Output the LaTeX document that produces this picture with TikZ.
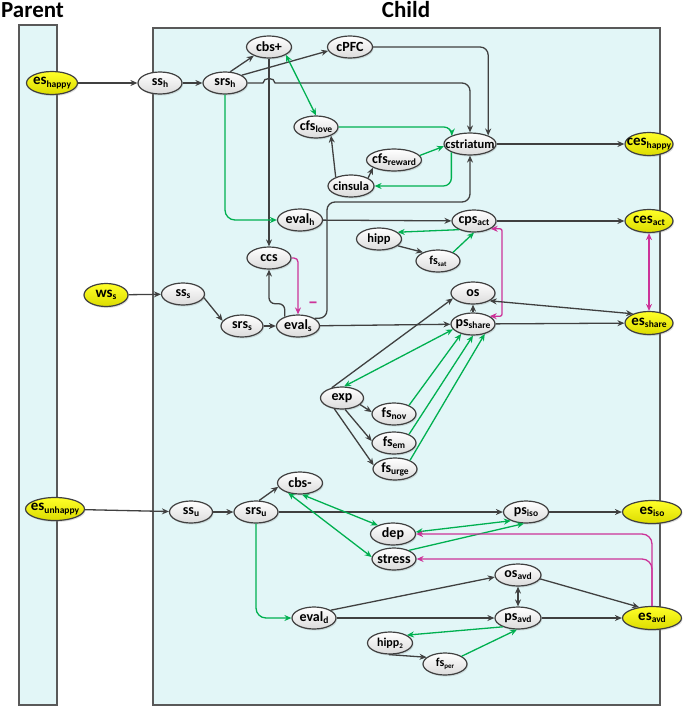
\documentclass[tikz,border=0pt]{standalone}
\usepackage{fontspec}
\setmainfont{Carlito}
\usetikzlibrary{arrows.meta,shapes.geometric,shadows}
\definecolor{edgec}{RGB}{64,64,64}
\definecolor{grn}{RGB}{0,176,80}
\definecolor{mag}{RGB}{204,51,153}
\definecolor{bgc}{RGB}{226,246,247}
\definecolor{framec}{RGB}{89,89,89}
\definecolor{yeltop}{RGB}{255,255,40}
\definecolor{yelbot}{RGB}{220,220,0}
\newcommand{\subt}[1]{\raisebox{-0.3ex}{\fontsize{9.5}{9.5}\selectfont #1}}
\newcommand{\subs}[1]{\raisebox{-0.3ex}{\fontsize{7}{7}\selectfont #1}}
\newcommand{\mb}[1]{\makebox[0pt]{#1}}
\begin{document}
\begin{tikzpicture}[x=1pt,y=-1pt,>={Stealth[length=7pt,width=6pt]},
  ell/.style={ellipse, draw=edgec, line width=1.2pt, top color=white, bottom color=gray!28,
    inner sep=0pt, minimum height=22pt, minimum width=44pt,
    font=\bfseries\fontsize{14}{14}\selectfont,
    drop shadow={shadow xshift=1pt, shadow yshift=-1.5pt, opacity=0.25}},
  yel/.style={ell, top color=yeltop, bottom color=yelbot, minimum height=23pt,
    font=\bfseries\fontsize{15}{15}\selectfont},
  small/.style={font=\bfseries\fontsize{12.5}{12.5}\selectfont},
  tiny/.style={font=\bfseries\fontsize{12}{12}\selectfont},
  ar/.style={draw=edgec, line width=1.3pt, ->},
  gr/.style={draw=grn, line width=1.3pt, ->},
  mg/.style={draw=mag, line width=1.3pt, ->},
  ttl/.style={font=\bfseries\fontsize{23}{23}\selectfont, inner sep=0pt}]
\useasboundingbox (0,0) rectangle (685,709);
% panels
\draw[framec, fill=bgc, line width=1.5pt] (19,25) rectangle (57,705);
\draw[framec, fill=bgc, line width=1.5pt] (153,28) rectangle (660,705);
\node[ttl, anchor=base west] (tparent) at (1,18) {Parent};
\node[ttl, anchor=base] (tchild) at (406,18) {Child};
% nodes
\node[yel, minimum width=51pt] (es_happy) at (52,83) {\mb{es\subt{happy}}};
\node[ell] (ss_h) at (160,83) {\mb{ss\subt{h}}};
\node[ell] (srs_h) at (225,83) {\mb{srs\subt{h}}};
\node[ell, minimum width=45pt] (cbsp) at (269,47) {\mb{cbs+}};
\node[ell, minimum width=45pt] (cPFC) at (350,47) {\mb{cPFC}};
\node[ell] (cfs_love) at (316,127) {\mb{cfs\subt{love}}};
\node[ell, small, minimum width=52pt] (cstriatum) at (470,144) {\mb{cstriatum}};
\node[ell, minimum width=55pt] (cfs_reward) at (394,160) {\mb{cfs\subt{reward}}};
\node[ell, small, minimum width=46pt] (cinsula) at (351,186) {\mb{cinsula}};
\node[yel, minimum width=48pt] (ces_happy) at (649,144) {\mb{ces\subt{happy}}};
\node[ell, minimum width=45pt] (eval_h) at (300,220) {\mb{eval\subt{h}}};
\node[ell] (ccs) at (269,258) {\mb{ccs}};
\node[yel, minimum width=44pt] (ws_s) at (106,295) {\mb{ws\subt{s}}};
\node[ell, minimum width=43pt] (ss_s) at (183,294) {\mb{ss\subt{s}}};
\node[ell, minimum width=42pt] (srs_s) at (242,326) {\mb{srs\subt{s}}};
\node[ell, minimum width=43pt] (eval_s) at (298,326) {\mb{eval\subt{s}}};
\node[ell] (cps_act) at (474,221) {\mb{cps\subt{act}}};
\node[yel, minimum width=48pt] (ces_act) at (649,221) {\mb{ces\subt{act}}};
\node[ell, small, minimum width=45pt] (hipp) at (379,239) {\mb{hipp}};
\node[ell, tiny] (fs_sat) at (438,261) {\mb{fs\subs{sat}}};
\node[ell] (os) at (473,293) {\mb{os}};
\node[ell] (ps_share) at (473,324) {\mb{ps\subt{share}}};
\node[yel, minimum width=48pt] (es_share) at (649,323) {\mb{es\subt{share}}};
\node[ell, minimum width=43pt] (exp) at (342,398) {\mb{exp}};
\node[ell] (fs_nov) at (394,414) {\mb{fs\subt{nov}}};
\node[ell] (fs_em) at (394,443) {\mb{fs\subt{em}}};
\node[ell] (fs_urge) at (395,469) {\mb{fs\subt{urge}}};
\node[ell, minimum width=45pt] (cbsm) at (300,483) {\mb{cbs-}};
\node[yel, minimum width=59pt] (es_unhappy) at (55,509) {\mb{es\subt{unhappy}}};
\node[ell, minimum width=43pt] (ss_u) at (191,512) {\mb{ss\subt{u}}};
\node[ell] (srs_u) at (256,512) {\mb{srs\subt{u}}};
\node[ell] (eval_d) at (314,618) {\mb{eval\subt{d}}};
\node[ell, minimum width=45pt] (ps_iso) at (526,512) {\mb{ps\subt{iso}}};
\node[yel, minimum width=59pt] (es_iso) at (652,512) {\mb{es\subt{iso}}};
\node[ell, minimum width=45pt] (dep) at (393,534) {\mb{dep}};
\node[ell] (stress) at (394,559) {\mb{stress}};
\node[ell, minimum width=46pt] (os_avd) at (518,575) {\mb{os\subt{avd}}};
\node[ell, minimum width=46pt] (ps_avd) at (518,618) {\mb{ps\subt{avd}}};
\node[yel, minimum width=59pt] (es_avd) at (652,618) {\mb{es\subt{avd}}};
\node[ell, tiny, minimum width=45pt] (hipp2) at (390,643) {\mb{hipp\subs{2}}};
\node[ell, tiny] (fs_per) at (445,664) {\mb{fs\subs{per}}};
\node[text=mag, font=\bfseries\fontsize{20}{20}\selectfont, inner sep=0pt] (minus) at (313,305) {–};
% happy branch
\draw[ar] (es_happy) -- (ss_h);
\draw[ar] (ss_h) -- (srs_h);
\draw[ar] (srs_h.65) -- (cbsp.210);
\draw[ar] (srs_h.25) -- (cPFC.190);
\draw[ar] (srs_h.east) -- (263,83) .. controls (263,77) and (275,77) .. (275,83) [rounded corners=8pt] -| (cstriatum.north);
\draw[ar, rounded corners=8pt] (cPFC.east) -| (cstriatum.25);
\draw[ar] (cbsp) -- (ccs);
\draw[gr, <->] (cbsp.-25) -- (cfs_love.north);
\draw[gr, rounded corners=8pt] (cfs_love.east) -| (cstriatum.155);
\draw[ar] (cinsula.150) -- (cfs_love.-30);
\draw[ar] (cinsula.25) -- (cfs_reward.200);
\draw[gr] (cfs_reward.10) -- (cstriatum.185);
\draw[gr, rounded corners=8pt] (cstriatum.204) |- (cinsula.east);
\draw[ar] (cstriatum) -- (ces_happy);
\draw[gr, rounded corners=10pt] (srs_h.south) |- (eval_h.west);
\draw[ar] (eval_h) -- (cps_act);
\draw[ar] (cps_act) -- (ces_act);
\draw[gr] (cps_act.210) -- (hipp.20);
\draw[ar] (hipp.-20) -- (fs_sat.150);
\draw[gr] (fs_sat.30) -- (cps_act.south);
\draw[mg, <->] (ces_act) -- (es_share);
\draw[mg, <->, rounded corners=2pt] (cps_act.-25) -| (502,270) |- (ps_share.25);
% share branch
\draw[ar] (ws_s) -- (ss_s);
\draw[ar] (ss_s.-10) -- (srs_s.165);
\draw[ar] (srs_s) -- (eval_s);
\draw[mg, rounded corners=4pt] (ccs.east) -| (eval_s.north);
\draw[ar, rounded corners=6pt] (eval_s.145) -- ++(0,-13) -| (ccs.south);
\draw[ar, rounded corners=8pt] (eval_s.25) -| (327,202) -| (cstriatum.south);
\draw[ar] (eval_s) -- (ps_share);
\draw[ar] (ps_share) -- (os);
\draw[ar, <->] (es_share.150) -- (os.-25);
\draw[ar] (ps_share) -- (es_share);
\draw[ar] (exp.135) -- (os.195);
\draw[gr, <->] (exp.80) -- (ps_share.195);
\draw[gr] (fs_nov.30) -- (ps_share.220);
\draw[gr] (fs_em.30) -- (ps_share.-90);
\draw[gr] (fs_urge.30) -- (ps_share.-40);
\draw[ar] (exp.-20) -- (fs_nov.175);
\draw[ar] (exp.-75) -- (fs_em.175);
\draw[ar] (exp.-125) -- (fs_urge.170);
% unhappy branch
\draw[ar] (es_unhappy) -- (ss_u);
\draw[ar] (ss_u) -- (srs_u);
\draw[ar] (srs_u.75) -- (cbsm.190);
\draw[ar] (srs_u) -- (ps_iso);
\draw[gr, rounded corners=10pt] (srs_u.south) |- (eval_d.west);
\draw[gr, <->] (cbsm.-80) -- (dep.150);
\draw[gr, <->] (cbsm.-140) -- (stress.175);
\draw[gr, <->] (dep.5) -- (ps_iso.210);
\draw[gr] (stress.30) -- (ps_iso.-100);
\draw[ar] (ps_iso) -- (es_iso);
\draw[mg, rounded corners=10pt] (es_avd.north) |- (dep.east);
\draw[mg, rounded corners=10pt] (es_avd.north) |- (stress.east);
\draw[ar] (eval_d.25) -- (os_avd.185);
\draw[ar] (eval_d) -- (ps_avd);
\draw[ar, <->] (os_avd) -- (ps_avd);
\draw[ar] (os_avd.-10) -- (es_avd.140);
\draw[ar] (ps_avd) -- (es_avd);
\draw[gr] (ps_avd.210) -- (hipp2.25);
\draw[ar] (hipp2.-95) -- (fs_per.160);
\draw[gr] (fs_per.25) -- (ps_avd.-95);
\end{tikzpicture}
\end{document}
